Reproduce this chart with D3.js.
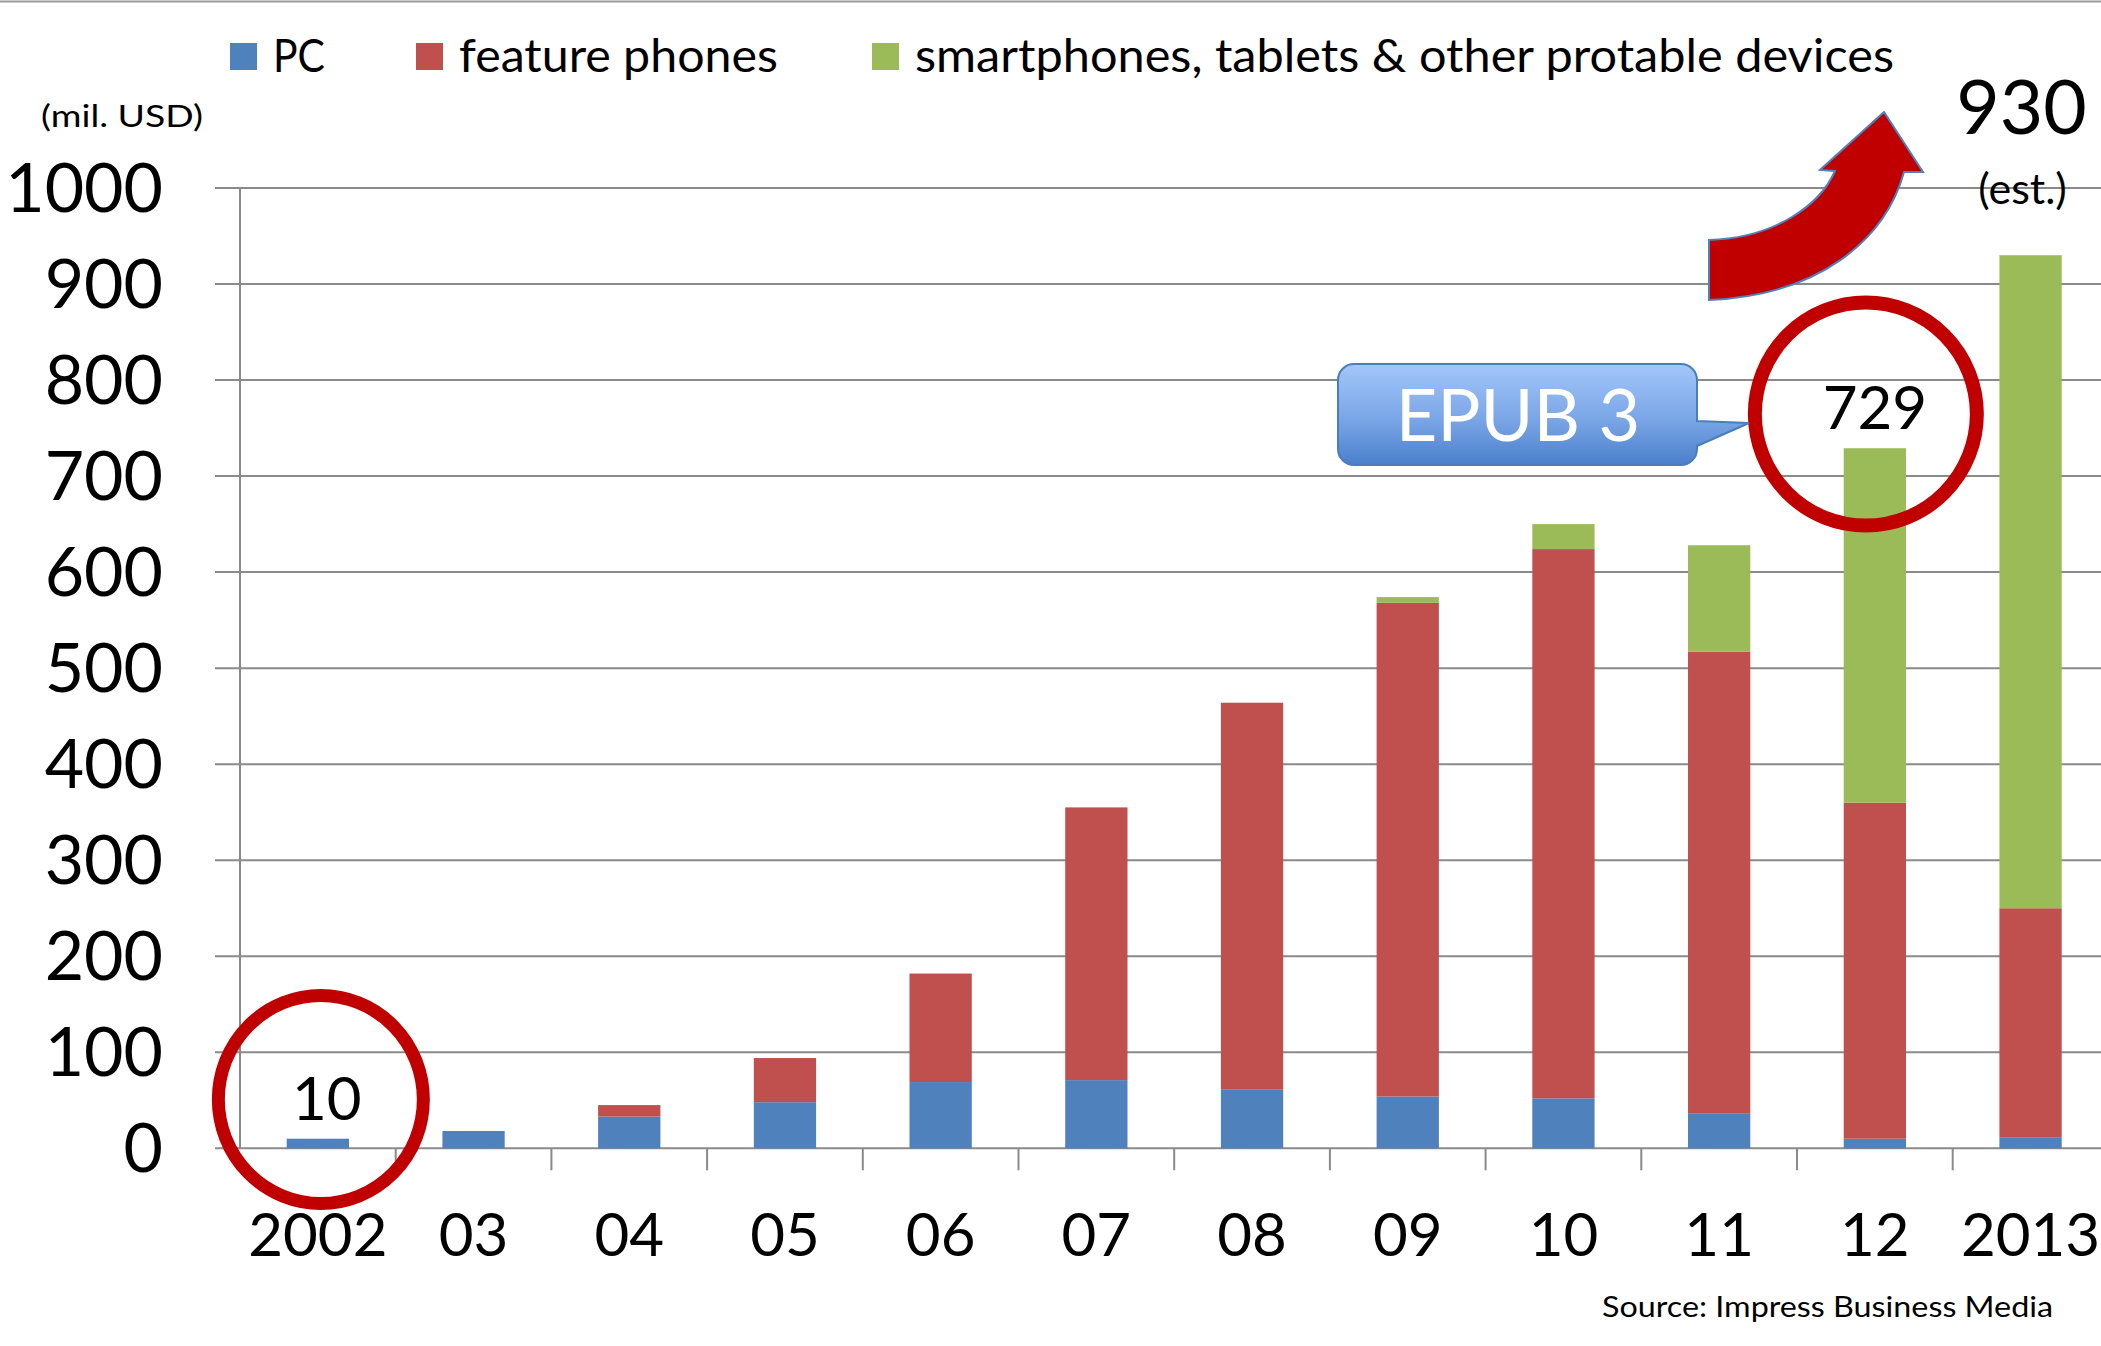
<!DOCTYPE html>
<html>
<head>
<meta charset="utf-8">
<script src="https://cdn.jsdelivr.net/npm/d3@7/dist/d3.min.js"></script>
<style>
  html, body { margin: 0; padding: 0; background: #fff; }
  svg { display: block; }
  text { font-family: Lato, "Open Sans", sans-serif; fill: #000; }
</style>
</head>
<body>
<svg id="chart" width="2101" height="1346"></svg>
<script>
// ---- data ----
const categories = ["2002", "03", "04", "05", "06", "07", "08", "09", "10", "11", "12", "2013"];
const pcValues      = [10, 18, 33, 48, 69, 71, 61, 54, 52, 36, 10, 11];
const featureValues = [0, 0, 12, 46, 113, 284, 403, 514, 572, 481, 350, 239];
const smartValues   = [0, 0, 0, 0, 0, 0, 0, 6, 26, 111, 369, 680];
const seriesNames   = ["PC", "feature phones", "smartphones, tablets & other protable devices"];
const yTicks        = [0, 100, 200, 300, 400, 500, 600, 700, 800, 900, 1000];
const unitLabel     = "(mil. USD)";
const sourceLabel   = "Source: Impress Business Media";
const callout2002   = "10";
const callout2012   = "729";
const estValue      = "930";
const estLabel      = "(est.)";
const epubLabel     = "EPUB 3";

const colors = ["#4F81BD", "#C0504D", "#9BBB59"];
const svg = d3.select("#chart");

// ---- scales ----
const x0 = 240, yZero = 1148.3, yTop = 188;
const step = 155.7;
const x = d3.scaleBand().domain(categories)
  .range([x0, x0 + step * categories.length])
  .paddingInner(0.6).paddingOuter(0.3);
const y = d3.scaleLinear().domain([0, 1000]).range([yZero, yTop]);

// top frame line
svg.append("line").attr("x1", 0).attr("x2", 2101).attr("y1", 1.5).attr("y2", 1.5)
  .attr("stroke", "#9a9a9a").attr("stroke-width", 2);

// ---- gridlines (with left tick extension) ----
const gridG = svg.append("g");
gridG.selectAll("line").data(yTicks).join("line")
  .attr("x1", 215).attr("x2", 2101)
  .attr("y1", d => y(d)).attr("y2", d => y(d))
  .attr("stroke", "#8a8a8a").attr("stroke-width", 2);

// y axis line
svg.append("line").attr("x1", x0).attr("x2", x0).attr("y1", y(1000)).attr("y2", y(0))
  .attr("stroke", "#8a8a8a").attr("stroke-width", 2);

// x tick marks at category boundaries
const bounds = categories.map((c, i) => x0 + step * (i + 1));
svg.append("g").selectAll("line").data(bounds).join("line")
  .attr("x1", d => d).attr("x2", d => d)
  .attr("y1", yZero).attr("y2", yZero + 22)
  .attr("stroke", "#8a8a8a").attr("stroke-width", 2);

// y tick labels
svg.append("g").selectAll("text").data(yTicks).join("text")
  .attr("x", 163).attr("y", d => y(d) + 24)
  .attr("text-anchor", "end")
  .style("font-size", "68px")
  .text(d => d);

// x labels
svg.append("g").selectAll("text").data(categories).join("text")
  .attr("x", d => x(d) + x.bandwidth() / 2).attr("y", 1256)
  .attr("text-anchor", "middle")
  .style("font-size", "60px")
  .text(d => d);

// ---- stacked bars ----
const rows = categories.map((c, i) => ({ cat: c, pc: pcValues[i], fp: featureValues[i], sp: smartValues[i] }));
const stack = d3.stack().keys(["pc", "fp", "sp"]);
const layers = stack(rows);
svg.append("g").selectAll("g").data(layers).join("g")
  .attr("fill", (d, i) => colors[i])
  .selectAll("rect").data(d => d).join("rect")
  .attr("x", d => x(d.data.cat))
  .attr("width", x.bandwidth())
  .attr("y", d => y(d[1]))
  .attr("height", d => Math.max(0, y(d[0]) - y(d[1])));

// ---- legend ----
const legendX = [230, 416, 872];
const legendTextLen = [52, 319, 979];
const lg = svg.append("g");
seriesNames.forEach((name, i) => {
  lg.append("rect").attr("x", legendX[i]).attr("y", 43).attr("width", 27).attr("height", 27).attr("fill", colors[i]);
  lg.append("text").attr("x", legendX[i] + 43).attr("y", 72)
    .style("font-size", "47px")
    .attr("textLength", legendTextLen[i]).attr("lengthAdjust", "spacingAndGlyphs")
    .text(name);
});

// unit label
svg.append("text").attr("x", 41).attr("y", 127).style("font-size", "30px")
  .attr("textLength", 162).attr("lengthAdjust", "spacingAndGlyphs").text(unitLabel);

// source
svg.append("text").attr("x", 2053).attr("y", 1317).attr("text-anchor", "end")
  .style("font-size", "29px")
  .attr("textLength", 451).attr("lengthAdjust", "spacingAndGlyphs").text(sourceLabel);

// ---- annotations ----
const ring = "#C00000";
const cx2002 = x("2002") + x.bandwidth() / 2;
const cx2012 = x("12") + x.bandwidth() / 2;
const cx2013 = x("2013") + x.bandwidth() / 2;

// ellipse around 2002
svg.append("ellipse").attr("cx", cx2002 + 3).attr("cy", 1099.5).attr("rx", 102.5).attr("ry", 104)
  .attr("fill", "none").attr("stroke", ring).attr("stroke-width", 13);
svg.append("text").attr("x", cx2002 + 9).attr("y", 1120).attr("text-anchor", "middle")
  .style("font-size", "60px").text(callout2002);

// ellipse around 2012 total
svg.append("ellipse").attr("cx", cx2012 - 9).attr("cy", 414).attr("rx", 111).attr("ry", 111.5)
  .attr("fill", "none").attr("stroke", ring).attr("stroke-width", 14);
svg.append("text").attr("x", cx2012).attr("y", 429).attr("text-anchor", "middle")
  .style("font-size", "60px").text(callout2012);

// EPUB 3 callout
const defs = svg.append("defs");
const grad = defs.append("linearGradient").attr("id", "epubGrad").attr("x1", 0).attr("y1", 0).attr("x2", 0).attr("y2", 1);
grad.append("stop").attr("offset", "0%").attr("stop-color", "#A3C6FA");
grad.append("stop").attr("offset", "55%").attr("stop-color", "#7AA6E6");
grad.append("stop").attr("offset", "100%").attr("stop-color", "#4A7FCB");
const bx1 = 1338, bx2 = 1697, by1 = 364, by2 = 465, r = 16;
const p = d3.path();
p.moveTo(bx1 + r, by1);
p.lineTo(bx2 - r, by1);
p.arcTo(bx2, by1, bx2, by1 + r, r);
p.lineTo(bx2, 421);
p.lineTo(1749, 423);
p.lineTo(bx2, 446);
p.lineTo(bx2, by2 - r);
p.arcTo(bx2, by2, bx2 - r, by2, r);
p.lineTo(bx1 + r, by2);
p.arcTo(bx1, by2, bx1, by2 - r, r);
p.lineTo(bx1, by1 + r);
p.arcTo(bx1, by1, bx1 + r, by1, r);
p.closePath();
svg.append("path").attr("d", p.toString()).attr("fill", "url(#epubGrad)")
  .attr("stroke", "#4A7EBB").attr("stroke-width", 2);
svg.append("text").attr("x", 1518).attr("y", 441).attr("text-anchor", "middle")
  .style("font-size", "72px").style("fill", "#fff").text(epubLabel);

// curved arrow
const a = d3.path();
a.moveTo(1709, 300);
a.bezierCurveTo(1820, 295, 1885, 240, 1904, 172);
a.lineTo(1923, 172);
a.lineTo(1884, 112);
a.lineTo(1820, 170);
a.lineTo(1835, 171);
a.bezierCurveTo(1820, 205, 1775, 238, 1709, 240);
a.closePath();
svg.append("path").attr("d", a.toString()).attr("fill", "#C00000")
  .attr("stroke", "#4F81BD").attr("stroke-width", 2).attr("stroke-linejoin", "miter");

// 930 (est.)
svg.append("text").attr("x", cx2013 - 9).attr("y", 134).attr("text-anchor", "middle")
  .style("font-size", "75px").text(estValue);
svg.append("text").attr("x", cx2013 - 8).attr("y", 204).attr("text-anchor", "middle")
  .style("font-size", "43px").text(estLabel);
</script>
</body>
</html>
